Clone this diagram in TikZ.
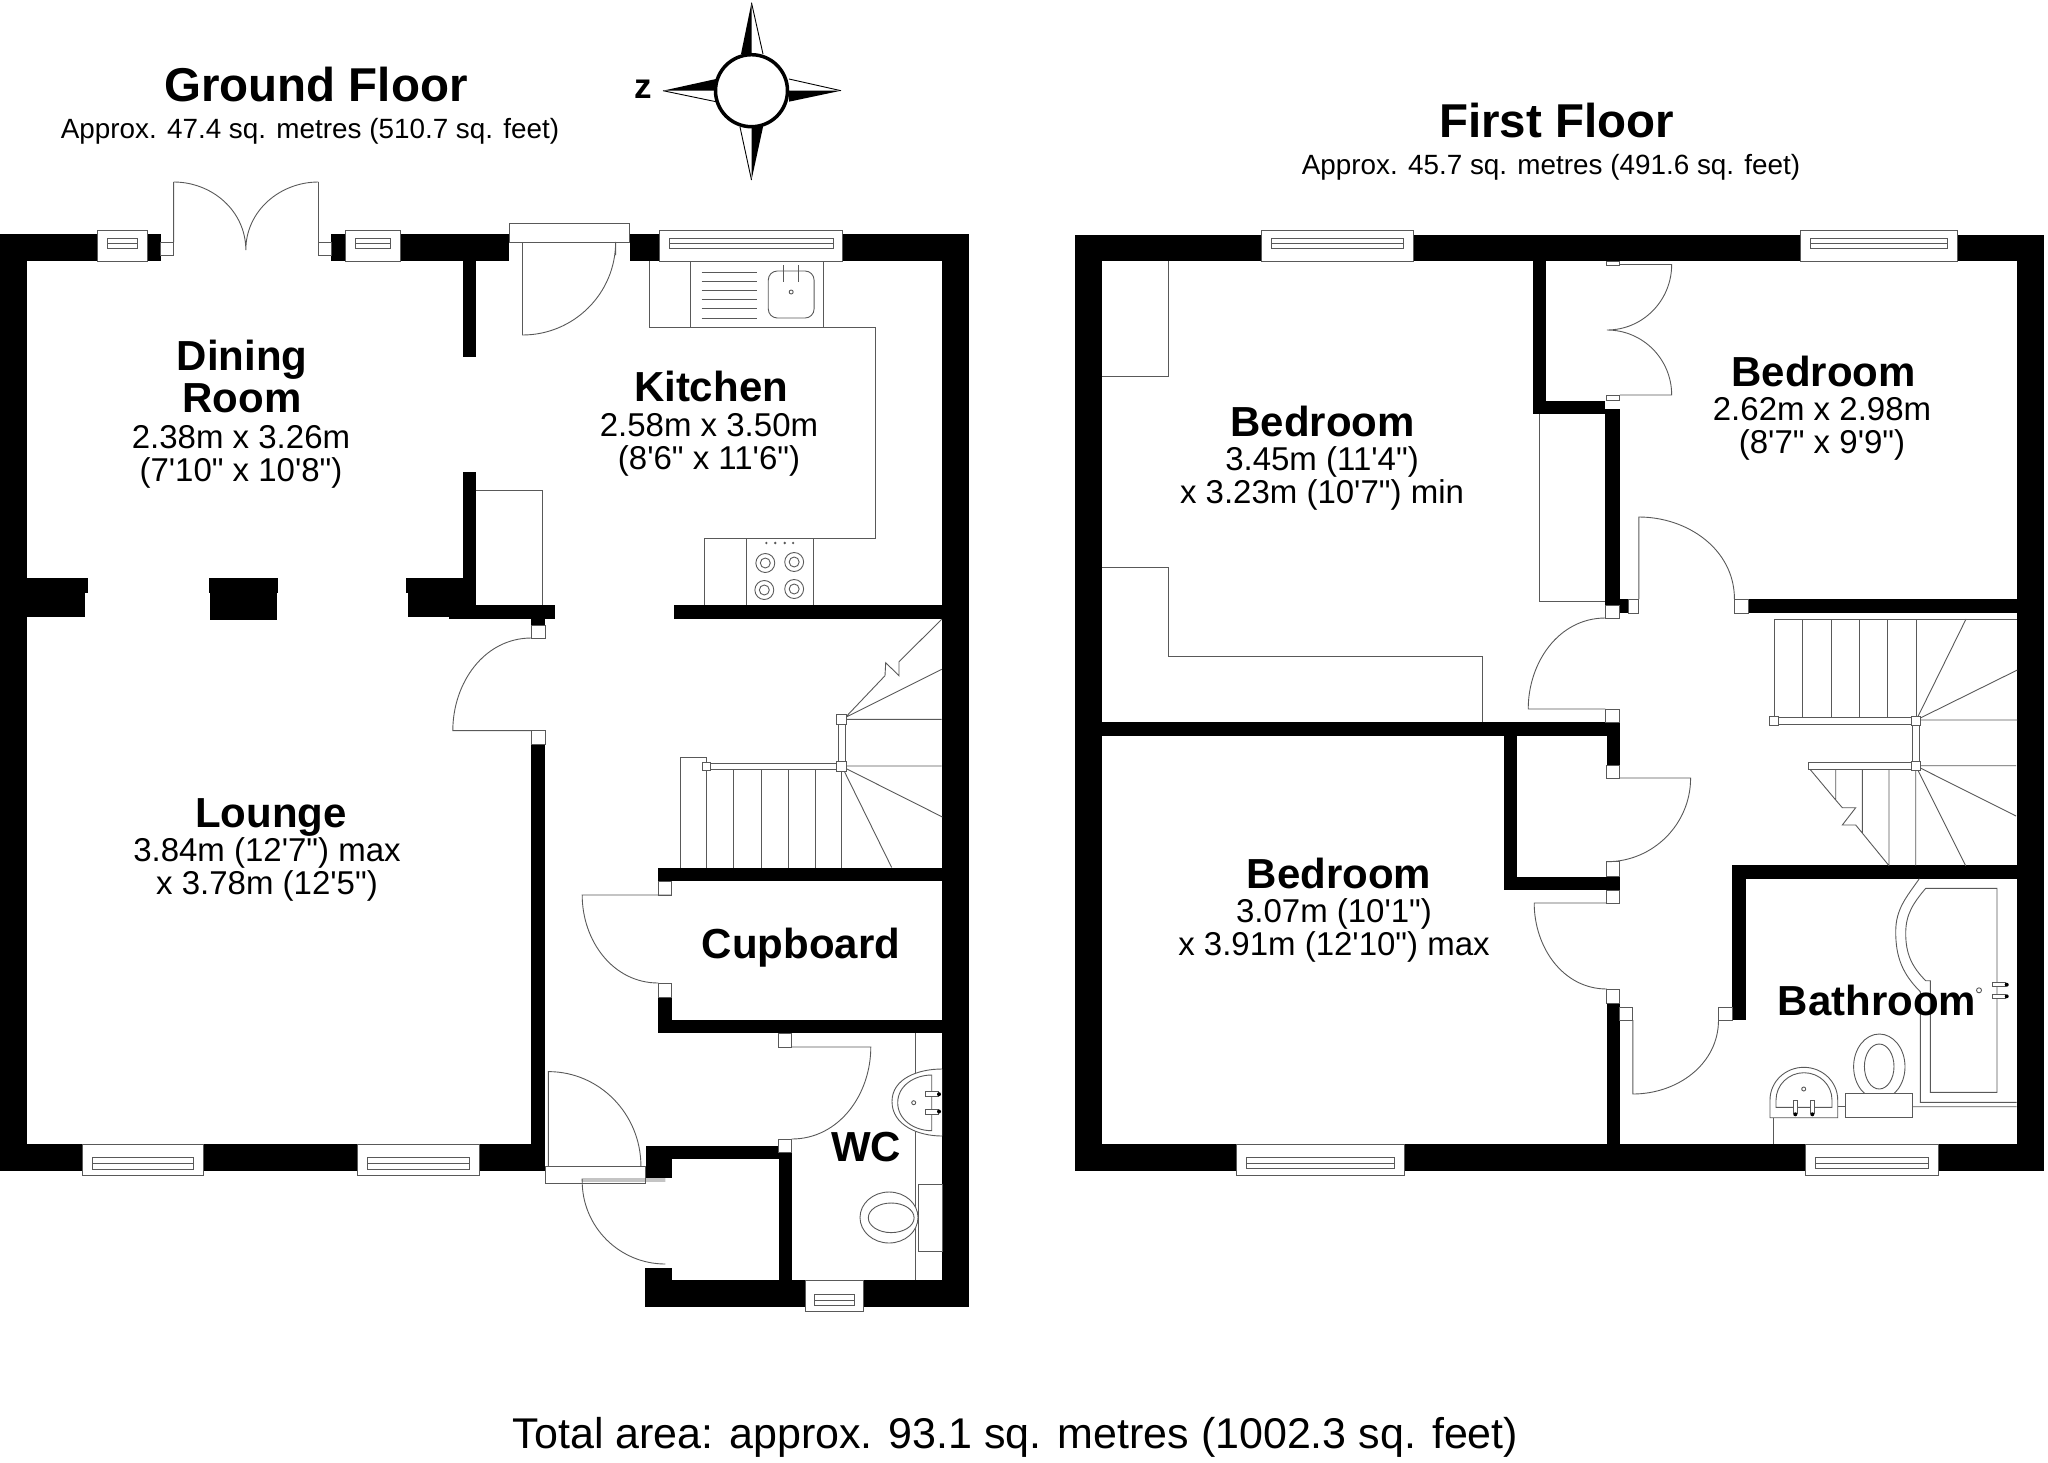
\documentclass[tikz,border=0pt]{standalone}
\usepackage{fontspec}
\newfontfamily\plansans{Liberation Sans}
\tikzset{
  wall/.style={fill=black,draw=none},
  fitting/.style={draw=black!65,line width=0.9pt},
  frame/.style={fitting,fill=white},
  floortitle/.style={font=\plansans\bfseries\fontsize{47.5}{47.5}\selectfont,inner sep=0pt},
  floorarea/.style={font=\plansans\fontsize{27.85}{28}\selectfont,inner sep=0pt},
  roomname/.style={font=\plansans\bfseries\fontsize{42}{42}\selectfont,align=center,inner sep=0pt},
  roomsize/.style={font=\plansans\fontsize{33}{33}\selectfont,align=center,inner sep=0pt}
}
\begin{document}
\begin{tikzpicture}[x=1pt,y=-1pt]
  \useasboundingbox (0,0) rectangle (2048,1462);
  % ground floor
  \begin{scope}[xscale=.9952]
    \foreach \xa/\ya/\xb/\yb in {0/234/161.5/261, 333/234/511.5/261, 632.7/234/974/261, 0/234/27.5/1171,
        0/1144/548/1171, 947/234/974/1307, 465/261/478/357, 465/472/478/605, 451/605/558/619,
        27.5/578/88/593, 27.5/593/85/617, 209.6/578/279.5/593, 211/593/278/620, 408/578/465/593,
        409.6/593/465/617, 534/619/548/625.5, 534/744/548/1171, 677.5/605/947/619,
        661.5/867.5/947/881, 661.5/997/675/1033, 661.5/1020/947/1033, 649/1146/783/1159,
        649/1146/675.6/1177.6, 783/1152/795.5/1281, 648/1267.5/675.6/1307, 648/1280/974/1307}
      \fill[wall] (\xa,\ya) rectangle (\xb,\yb);
    \foreach \xa/\xb in {98/148, 347/402, 663/847} {
      \draw[frame] (\xa,230) rectangle (\xb,261);
      \draw[fitting] (\xa+10,238) rectangle (\xb-10,248) (\xa+10,243) -- (\xb-10,243);
    }
    \foreach \xa/\xb in {83/204.5, 359/481.4} {
      \draw[frame] (\xa,1144) rectangle (\xb,1175);
      \draw[fitting] (\xa+10,1157.7) rectangle (\xb-10,1169) (\xa+10,1163) -- (\xb-10,1163);
    }
    \draw[frame] (809,1280) rectangle (868,1311);
    \draw[fitting] (818.6,1294) rectangle (859,1305.6) (818.6,1300) -- (859,1300);
    \foreach \xa/\ya/\xb/\yb in {161.5/242/174.4/255, 320/242/333/255, 511.5/223/632.7/242,
        534/625.5/548/638, 534/730.6/548/744.4, 661.5/881/675/895, 661.5/983/675/997,
        782/1033/795.5/1047, 782/1139/795.5/1152, 548/1166/649/1183.6}
      \draw[frame] (\xa,\ya) rectangle (\xb,\yb);
    % doors
    \draw[fitting] (174.4,182) -- (174.4,242) (320,182) -- (320,242)
      (174.4,182) to[out=0,in=90] (247,250) (320,182) to[out=180,in=90] (247,250);
    \draw[fitting] (525,242) -- (525,335) to[out=0,in=-90] (618.6,242) -- (618.6,255);
    \draw[fitting] (534,638) to[out=180,in=90] (455,730.6) -- (534,730.6);
    \draw[fitting] (675,895) -- (585,895) to[out=-90,in=180] (661.5,983);
    \draw[fitting] (795.5,1047) -- (875,1047) to[out=-90,in=0] (795.5,1139);
    \draw[fitting] (551,1166) -- (551,1071.6) to[out=0,in=90] (644,1166);
    \draw[fitting] (668.6,1179) -- (585,1179) -- (585,1181) -- (668.6,1181) (585,1181) to[out=-90,in=180] (668.6,1264);
    % kitchen units
    \draw[fitting] (652.6,261) -- (652.6,327.7) -- (880,327.7) -- (880,538) -- (708,538) -- (708,605);
    \draw[fitting] (694,261) -- (694,327.7) (827.5,261) -- (827.5,327.7) (750,538) -- (750,605) (817,538) -- (817,605);
    \draw[fitting] (478,490) -- (545,490) -- (545,605);
    \foreach \y in {272,281,290,299,308,318}
      \draw[fitting] (705,\y) -- (761,\y);
    \draw[fitting,rounded corners=9pt] (772,271) rectangle (818,318);
    \foreach \x in {787,802}
      \draw[fitting] (\x,265) -- (\x,282);
    \draw[fitting] (795,292) circle (2);
    \foreach \x/\y in {769/563, 798/562, 768/590, 798/589} {
      \draw[fitting] (\x,\y) circle (9.5);
      \draw[fitting] (\x,\y) circle (5);
    }
    \foreach \x in {770,779,788.5,797}
      \fill[black!65] (\x,543) circle (1.3);
    % stairs, lower flight
    \draw[fitting] (684,867.5) -- (684,757) -- (710,757) -- (710,763);
    \foreach \x in {710,737,765,792,819,845.5}
      \draw[fitting] (\x,766.5) -- (\x,867.5);
    \draw[frame] (710,763.5) rectangle (846,769.5);
    \draw[fitting] (846,766.5) -- (896,867.5) (846,766.5) -- (947,817);
    \draw[frame] (710-4,766.5-4) rectangle (710+4,766.5+4);
  \end{scope}
  % ground floor stairs, upper flight
  \draw[fitting] (841.7,766) -- (941.7,766) (841.7,719.3) -- (941.7,719.3) (841.7,719.3) -- (941.7,669.3)
    (846.7,716) -- (885,675.7) -- (885.7,662.7) -- (899,675.7) -- (899,661.7) -- (941.7,619.3);
  \draw[frame] (838.3,719.3) rectangle (845,766);
  \draw[frame] (836.7,714.3) rectangle (846.7,724.3);
  \draw[frame] (836.7,761) rectangle (846.7,771);
  % wc fittings
  \draw[fitting] (915.7,1033) -- (915.7,1280);
  \draw[frame] (942,1069) to[out=180,in=90] (892,1101.5) to[out=-90,in=180] (942,1136);
  \draw[fitting] (931.7,1075) to[out=180,in=90] (897.7,1102.7) to[out=-90,in=180] (931.7,1130.7) -- cycle;
  \draw[fitting] (913.7,1102.7) circle (2);
  \foreach \y in {1094.2,1111.5} {
    \draw[frame] (925,\y-2.5) rectangle (938.3,\y+2.5);
    \fill[black] (939,\y) circle (2);
  }
  \draw[frame] (889,1217.5) ellipse (29 and 25.5);
  \draw[fitting] (891.2,1217.8) ellipse (22.9 and 14.8);
  \draw[frame] (918.3,1184) rectangle (942,1251);
  % first floor
  \begin{scope}[shift={(4.03,0)},xscale=.9962]
    \foreach \xa/\ya/\xb/\yb in {1074.6/235/2048/261.4, 1074.6/235/1101.8/1171, 2021/235/2048/1171,
        1074.6/1144/2048/1171, 1534.7/261/1548/414, 1534.7/400.7/1607.5/414, 1607.5/409/1622/605,
        1622/599/1630.7/613, 1751/599/2021/613, 1102/722/1622/736, 1609/736/1622/765,
        1505.6/736/1519/890, 1505.6/876.7/1622/890, 1609/1003/1622/1144, 1735/865/2021/878.7,
        1735/865/1748.6/1020}
      \fill[wall] (\xa,\ya) rectangle (\xb,\yb);
    \foreach \xa/\xb in {1262/1415, 1803/1961} {
      \draw[frame] (\xa,230) rectangle (\xb,261);
      \draw[fitting] (\xa+10,238) rectangle (\xb-10,248) (\xa+10,243) -- (\xb-10,243);
    }
    \foreach \xa/\xb in {1237/1406, 1808.7/1942} {
      \draw[frame] (\xa,1144) rectangle (\xb,1175);
      \draw[fitting] (\xa+10,1157.7) rectangle (\xb-10,1168) (\xa+10,1163) -- (\xb-10,1163);
    }
    \foreach \xa/\ya/\xb/\yb in {1609/261/1622/265, 1609/395/1622/400, 1630.7/599/1641/613,
        1737/599/1751/613, 1607.5/605/1622/618, 1607.5/709/1622/722, 1609/765/1622/778,
        1609/861.7/1622/876.7, 1609/890/1622/903, 1609/989/1622/1003, 1622/1007/1635/1020,
        1721/1007/1735/1020}
      \draw[frame] (\xa,\ya) rectangle (\xb,\yb);
    % doors
    \draw[fitting] (1622,264.5) -- (1674,264.5) to[out=-90,in=0] (1609,330) to[out=0,in=90] (1674,395) -- (1622,395);
    \draw[fitting] (1641,599) -- (1641,517) to[out=0,in=90] (1737,599);
    \draw[fitting] (1607.5,618) to[out=180,in=90] (1530,709) -- (1607.5,709);
    \draw[fitting] (1622,778) -- (1693,778) to[out=-90,in=0] (1609,861.7);
    \draw[fitting] (1609,903) -- (1536,903) to[out=-90,in=180] (1609,989);
    \draw[fitting] (1635,1020) -- (1635,1094) to[out=0,in=-90] (1721,1020);
    % bedroom units
    \draw[fitting] (1101.8,376) -- (1169,376) -- (1169,261.4);
    \draw[fitting] (1101.8,567) -- (1169,567) -- (1169,656) -- (1484,656) -- (1484,722);
    \draw[fitting] (1541.6,414) -- (1541.6,601.7) -- (1607.5,601.7);
    % stairs, upper flight
    \draw[fitting] (1777,619) -- (2021,619);
    \foreach \x in {1777,1805.6,1834,1862.5,1891,1919.5}
      \draw[fitting] (\x,619) -- (\x,717);
    \draw[frame] (1777,717) rectangle (1919.5,724.5);
    \draw[frame] (1916,720) rectangle (1923,766);
    \draw[fitting] (1919.5,720) -- (1969.5,619) (1919.5,720) -- (2021,670) (1919.5,720) -- (2021,720);
    \foreach \x/\y in {1777/720.5, 1919.5/720.5}
      \draw[frame] (\x-4.5,\y-4.5) rectangle (\x+4.5,\y+4.5);
  \end{scope}
  % first floor stairs, lower flight
  \draw[fitting] (1915.7,765.7) -- (2016,765.7) (1915.7,765.7) -- (2016,816) (1915.7,765.7) -- (1965.7,865.7)
    (1915.7,765.7) -- (1915.7,865.7) (1889,769) -- (1889,865.7) (1862.3,769) -- (1862.3,832.7) (1835.7,769) -- (1835.7,800)
    (1810,769.3) -- (1835.7,800) -- (1842.3,807.7) -- (1855.7,807.7) -- (1842.3,825) -- (1855.7,825) -- (1889,865.7);
  \draw[frame] (1808.3,762.7) rectangle (1911.7,769.3);
  \draw[frame] (1911,761) rectangle (1920.4,770.4);
  % bathroom fittings
  \draw[fitting] (1919.3,878.7) to[out=-125,in=90] (1895.7,931.7) to[out=-90,in=135] (1920.3,991.7) -- (1920.3,1102.3) -- (2016.7,1102.3)
    (1912.3,1106.7) -- (2016.7,1106.7);
  \draw[fitting] (1925.7,888.3) -- (1997,888.3) -- (1997,1092.3) -- (1930.3,1092.3) -- (1930.3,980.7) -- (1925.7,980.7)
    to[out=135,in=-90] (1905.7,933.3) to[out=90,in=-130] (1925.7,888.3);
  \draw[fitting] (1979,990.3) circle (2.5);
  \foreach \y in {984.7,996.3} {
    \draw[frame] (1992.7,\y-2) rectangle (2005,\y+2);
    \fill[black] (2006.7,\y) circle (2);
  }
  \draw[frame] (1879.3,1066.7) ellipse (25.7 and 32.7);
  \draw[fitting] (1879.2,1066.5) ellipse (14.8 and 22.5);
  \draw[frame] (1845.7,1093.3) rectangle (1912.3,1117.7);
  \draw[fitting] (1770,1117.7) -- (1770,1100) to[out=90,in=180] (1803.8,1067.3) to[out=0,in=90] (1837.7,1100) -- (1837.7,1117.7) -- cycle;
  \draw[fitting] (1776,1107.3) -- (1776,1100) to[out=90,in=180] (1804,1072.7) to[out=0,in=90] (1832,1100) -- (1832,1107.3) -- cycle;
  \draw[fitting] (1837.7,1106.7) -- (1845.7,1106.7) (1773.3,1117.7) -- (1773.3,1144);
  \draw[fitting] (1803.7,1089) circle (2);
  \foreach \x in {1795.3,1812.3} {
    \draw[frame] (\x-2,1100) rectangle (\x+2,1113.3);
    \fill[black] (\x,1114.3) circle (2);
  }
  % compass
  \fill[black] (751.5,2.7) -- (741,54) -- (751.5,54) -- cycle (663,90.7) -- (716,79) -- (716,90.7) -- cycle
    (841,90.7) -- (789,101.7) -- (789,90.7) -- cycle (751.5,180) -- (763,127) -- (751.5,127) -- cycle;
  \draw[fitting,draw=black] (751.5,2.7) -- (763,54) (663,90.7) -- (716,101.7) (841,90.7) -- (789,79) (751.5,180) -- (740,127);
  \draw[line width=3.5pt,fill=white] (751.5,90.7) circle (36);
  \node[font=\plansans\bfseries\fontsize{35}{35}\selectfont,inner sep=0pt] (northmark) at (643.5,89) {z};
  % labels
  \node[floortitle] (groundtitle) at (316,85) {Ground Floor};
  \node[floorarea] (groundarea) at (310,131.5) {Approx. 47.4 sq. metres (510.7 sq. feet)};
  \node[floortitle] (firsttitle) at (1556.5,120.5) {First Floor};
  \node[floorarea] (firstarea) at (1551,167) {Approx. 45.7 sq. metres (491.6 sq. feet)};
  \node[roomname] (dining) at (242,376) {Dining\\Room};
  \node[roomsize] (diningsize) at (241,456.5) {2.38m x 3.26m\\(7'10" x 10'8")};
  \node[roomname] (kitchen) at (711,386) {Kitchen};
  \node[roomsize] (kitchensize) at (709,445) {2.58m x 3.50m\\(8'6" x 11'6")};
  \node[roomname] (lounge) at (271,817) {Lounge};
  \node[roomsize] (loungesize) at (267,869.5) {3.84m (12'7") max\\x 3.78m (12'5")};
  \node[roomname] (cupboard) at (801,947.5) {Cupboard};
  \node[roomname] (wc) at (866,1147) {WC};
  \node[roomname] (bedroomeast) at (1322.5,421) {Bedroom};
  \node[roomsize] (bedroomeastsize) at (1322,478) {3.45m (11'4")\\x 3.23m (10'7") min};
  \node[roomname] (bedroomsouth) at (1823.5,371) {Bedroom};
  \node[roomsize] (bedroomsouthsize) at (1822,428.5) {2.62m x 2.98m\\(8'7" x 9'9")};
  \node[roomname] (bedroomwest) at (1339,873) {Bedroom};
  \node[roomsize] (bedroomwestsize) at (1334,930) {3.07m (10'1")\\x 3.91m (12'10") max};
  \node[roomname] (bathroom) at (1877,1000) {Bathroom};
  \node[font=\plansans\fontsize{43}{43}\selectfont,inner sep=0pt] (totalarea) at (1015.5,1437.5) {Total area: approx. 93.1 sq. metres (1002.3 sq. feet)};
\end{tikzpicture}
\end{document}
